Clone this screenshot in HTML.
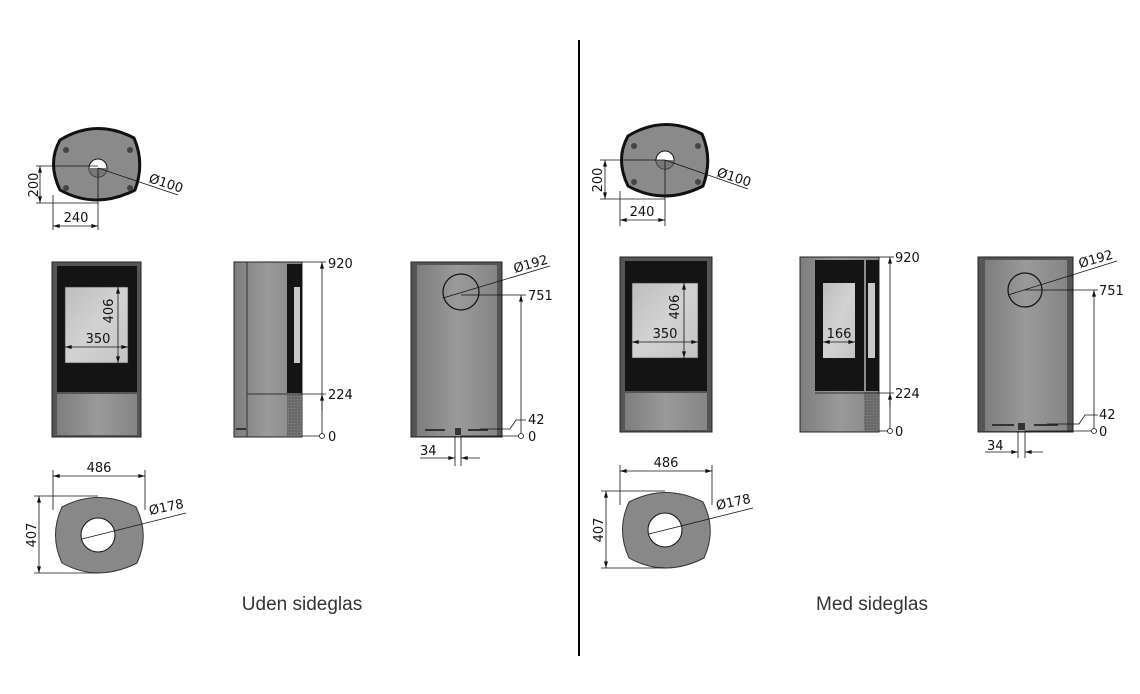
<!DOCTYPE html>
<html><head><meta charset="utf-8"><style>
html,body{margin:0;padding:0;background:#fff;width:1140px;height:694px;overflow:hidden}
svg{display:block}
text{font-family:"DejaVu Sans","Liberation Sans",sans-serif;fill:#111}
</style></head><body>
<svg width="1140" height="694" viewBox="0 0 1140 694" xmlns="http://www.w3.org/2000/svg">
<defs>
<marker id="a" viewBox="0 0 10 6" refX="10" refY="3" markerWidth="9" markerHeight="5" orient="auto-start-reverse"><path d="M0 0L10 3L0 6z" fill="#111"/></marker>
<linearGradient id="g" x1="0" x2="1"><stop offset="0" stop-color="#7d7d7d"/><stop offset=".5" stop-color="#9a9a9a"/><stop offset="1" stop-color="#858585"/></linearGradient>
<linearGradient id="gl" x1="0" x2="1" y1="0" y2="1"><stop offset="0" stop-color="#bdbdbd"/><stop offset=".5" stop-color="#d2d2d2"/><stop offset="1" stop-color="#c4c4c4"/></linearGradient>
<pattern id="h" width="3" height="3" patternUnits="userSpaceOnUse"><rect width="3" height="3" fill="#6a6a6a"/><rect width="1" height="1" fill="#888"/></pattern>
</defs>
<line x1="579" y1="40" x2="579" y2="656" stroke="#000" stroke-width="2"/>

<!-- LEFT SET -->
<g id="L">
<!-- top view -->
<path d="M60 140 Q96 118 134 138 Q145 163 135 190 Q96 210 60 190 Q47 163 60 140Z" fill="#8a8a8a" stroke="#111" stroke-width="3"/>
<circle cx="98" cy="168" r="9" fill="#fff" stroke="#111"/>
<path d="M89 168 A9 9 0 0 0 107 168Z" fill="#777"/>
<circle cx="66" cy="150" r="3" fill="#444"/><circle cx="130" cy="150" r="3" fill="#444"/><circle cx="66" cy="188" r="3" fill="#444"/><circle cx="130" cy="188" r="3" fill="#444"/>
<g stroke="#111" stroke-width="0.8" fill="none">
<line x1="36" y1="166" x2="98" y2="166"/><line x1="36" y1="203" x2="98" y2="203"/>
<line x1="40" y1="166" x2="40" y2="203" marker-start="url(#a)" marker-end="url(#a)"/>
<line x1="53" y1="195" x2="53" y2="230"/><line x1="98" y1="168" x2="98" y2="230"/>
<line x1="53" y1="226" x2="98" y2="226" marker-start="url(#a)" marker-end="url(#a)"/>
<line x1="98" y1="168" x2="178" y2="195"/>
</g>
<text x="38" y="185" font-size="13" transform="rotate(-90 38 185)" text-anchor="middle">200</text>
<text x="76" y="222" font-size="13" text-anchor="middle">240</text>
<text x="148" y="182" font-size="13" transform="rotate(18 148 182)">Ø100</text>

<!-- front view -->
<rect x="52" y="262" width="89" height="175" fill="#555" stroke="#222"/>
<rect x="57" y="266" width="80" height="126" fill="#141414"/>
<rect x="65" y="287" width="63" height="76" fill="url(#gl)" stroke="#333" stroke-width=".6"/>
<rect x="57" y="394" width="80" height="41" fill="url(#g)"/>
<g stroke="#111" stroke-width="0.8">
<line x1="118" y1="287" x2="118" y2="363" marker-start="url(#a)" marker-end="url(#a)"/>
<line x1="65" y1="347" x2="128" y2="347" marker-start="url(#a)" marker-end="url(#a)"/>
</g>
<text x="117" y="315" font-size="13" transform="rotate(-90 113 315)" text-anchor="middle">406</text>
<text x="98" y="343" font-size="13" text-anchor="middle">350</text>

<!-- side view -->
<rect x="234" y="262" width="68" height="175" fill="url(#g)" stroke="#222"/>
<line x1="247" y1="262" x2="247" y2="437" stroke="#333"/>
<rect x="287" y="264" width="15" height="129" fill="#141414"/>
<rect x="294" y="287" width="6" height="76" fill="#c8c8c8"/>
<line x1="247" y1="394" x2="302" y2="394" stroke="#333"/>
<rect x="287" y="395" width="15" height="41" fill="url(#h)"/>
<rect x="236" y="428" width="10" height="2" fill="#333"/>
<g stroke="#111" stroke-width="0.8">
<line x1="302" y1="262" x2="326" y2="262"/><line x1="302" y1="394" x2="326" y2="394"/><line x1="302" y1="436" x2="320" y2="436"/>
<line x1="322" y1="262" x2="322" y2="436" marker-start="url(#a)"/>
<line x1="322" y1="394" x2="322" y2="410" marker-start="url(#a)"/>
</g>
<circle cx="322" cy="436" r="2.5" fill="#fff" stroke="#111" stroke-width=".8"/>
<text x="328" y="268" font-size="13">920</text>
<text x="328" y="399" font-size="13">224</text>
<text x="328" y="441" font-size="13">0</text>

<!-- back view -->
<rect x="411" y="262" width="91" height="175" fill="#555" stroke="#222"/>
<rect x="417" y="265" width="80" height="171" fill="url(#g)"/>
<circle cx="461" cy="292" r="18" fill="none" stroke="#111" stroke-width="1.2"/>
<rect x="425" y="429" width="20" height="2" fill="#333"/><rect x="468" y="429" width="20" height="2" fill="#333"/>
<rect x="455" y="428" width="6" height="7" fill="#333"/>
<g stroke="#111" stroke-width="0.8" fill="none">
<line x1="443" y1="298" x2="550" y2="266"/>
<line x1="461" y1="295" x2="526" y2="295"/>
<line x1="521" y1="295" x2="521" y2="436" marker-start="url(#a)"/>
<path d="M480 429 L510 429 L516 420 L526 420"/>
<line x1="461" y1="436" x2="524" y2="436"/>
<line x1="455" y1="436" x2="455" y2="466"/><line x1="461" y1="436" x2="461" y2="466"/>
<line x1="420" y1="458" x2="455" y2="458" marker-end="url(#a)"/>
<line x1="480" y1="458" x2="461" y2="458" marker-end="url(#a)"/>
</g>
<circle cx="521" cy="436" r="2.5" fill="#fff" stroke="#111" stroke-width=".8"/>
<text x="515" y="273" font-size="13" transform="rotate(-16 515 273)">Ø192</text>
<text x="528" y="300" font-size="13">751</text>
<text x="528" y="424" font-size="13">42</text>
<text x="528" y="441" font-size="13">0</text>
<text x="420" y="455" font-size="13">34</text>
</g>

<!-- bottom view left -->
<path d="M62 507 Q98 488 136 507 Q150 535 137 563 Q98 583 62 563 Q49 535 62 507Z" fill="#888" stroke="#333"/>
<circle cx="98" cy="535" r="17" fill="#fff" stroke="#111"/>
<g stroke="#111" stroke-width="0.8">
<line x1="53" y1="470" x2="53" y2="510"/><line x1="145" y1="470" x2="145" y2="510"/>
<line x1="53" y1="476" x2="145" y2="476" marker-start="url(#a)" marker-end="url(#a)"/>
<line x1="34" y1="496" x2="98" y2="496"/><line x1="34" y1="573" x2="98" y2="573"/>
<line x1="39" y1="496" x2="39" y2="573" marker-start="url(#a)" marker-end="url(#a)"/>
<line x1="82" y1="539" x2="186" y2="513"/>
</g>
<text x="99" y="472" font-size="13" text-anchor="middle">486</text>
<text x="36" y="535" font-size="13" transform="rotate(-90 36 535)" text-anchor="middle">407</text>
<text x="150" y="515" font-size="13" transform="rotate(-12 150 515)">Ø178</text>

<!-- RIGHT SET -->
<g transform="translate(568,-4)">
<path d="M60 140 Q96 118 134 138 Q145 163 135 190 Q96 210 60 190 Q47 163 60 140Z" fill="#8a8a8a" stroke="#111" stroke-width="3"/>
<circle cx="97" cy="164" r="9" fill="#fff" stroke="#111"/>
<path d="M88 164 A9 9 0 0 0 106 164Z" fill="#777"/>
<circle cx="66" cy="150" r="3" fill="#444"/><circle cx="130" cy="150" r="3" fill="#444"/><circle cx="66" cy="186" r="3" fill="#444"/><circle cx="130" cy="186" r="3" fill="#444"/>
<g stroke="#111" stroke-width="0.8" fill="none">
<line x1="32" y1="164" x2="97" y2="164"/><line x1="32" y1="203" x2="97" y2="203"/>
<line x1="37" y1="164" x2="37" y2="203" marker-start="url(#a)" marker-end="url(#a)"/>
<line x1="52" y1="195" x2="52" y2="230"/><line x1="97" y1="164" x2="97" y2="230"/>
<line x1="52" y1="224" x2="97" y2="224" marker-start="url(#a)" marker-end="url(#a)"/>
<line x1="97" y1="164" x2="180" y2="193"/>
</g>
<text x="34" y="184" font-size="13" transform="rotate(-90 34 184)" text-anchor="middle">200</text>
<text x="74" y="220" font-size="13" text-anchor="middle">240</text>
<text x="148" y="180" font-size="13" transform="rotate(18 148 180)">Ø100</text>
</g>

<g transform="translate(568,-5)">
<rect x="52" y="262" width="92" height="175" fill="#555" stroke="#222"/>
<rect x="57" y="266" width="82" height="130" fill="#141414"/>
<rect x="64" y="288" width="66" height="75" fill="url(#gl)" stroke="#333" stroke-width=".6"/>
<rect x="57" y="398" width="82" height="37" fill="url(#g)"/>
<g stroke="#111" stroke-width="0.8">
<line x1="116" y1="288" x2="116" y2="363" marker-start="url(#a)" marker-end="url(#a)"/>
<line x1="64" y1="347" x2="130" y2="347" marker-start="url(#a)" marker-end="url(#a)"/>
</g>
<text x="115" y="316" font-size="13" transform="rotate(-90 111 316)" text-anchor="middle">406</text>
<text x="97" y="343" font-size="13" text-anchor="middle">350</text>
</g>

<g transform="translate(0,-5)">
<rect x="800" y="262" width="79" height="175" fill="url(#g)" stroke="#222"/>
<rect x="815" y="265" width="49" height="131" fill="#141414"/>
<rect x="823" y="288" width="32" height="75" fill="url(#gl)"/>
<rect x="866" y="265" width="13" height="131" fill="#141414"/>
<rect x="868" y="288" width="7" height="75" fill="#c8c8c8"/>
<line x1="815" y1="398" x2="879" y2="398" stroke="#333"/>
<rect x="864" y="399" width="15" height="37" fill="url(#h)"/>
<g stroke="#111" stroke-width="0.8">
<line x1="823" y1="347" x2="855" y2="347" marker-start="url(#a)" marker-end="url(#a)"/>
<line x1="879" y1="262" x2="894" y2="262"/><line x1="864" y1="398" x2="894" y2="398"/><line x1="879" y1="436" x2="890" y2="436"/>
<line x1="890" y1="262" x2="890" y2="436" marker-start="url(#a)"/>
<line x1="890" y1="398" x2="890" y2="412" marker-start="url(#a)"/>
</g>
<circle cx="890" cy="436" r="2.5" fill="#fff" stroke="#111" stroke-width=".8"/>
<text x="839" y="343" font-size="13" text-anchor="middle">166</text>
<text x="895" y="267" font-size="13">920</text>
<text x="895" y="403" font-size="13">224</text>
<text x="895" y="441" font-size="13">0</text>
</g>

<g transform="translate(567,-5)">
<rect x="411" y="262" width="95" height="175" fill="#555" stroke="#222"/>
<rect x="418" y="265" width="82" height="171" fill="url(#g)"/>
<circle cx="458" cy="295" r="17" fill="none" stroke="#111" stroke-width="1.2"/>
<rect x="425" y="429" width="22" height="2" fill="#333"/><rect x="467" y="429" width="24" height="2" fill="#333"/>
<rect x="451" y="428" width="7" height="7" fill="#333"/>
<g stroke="#111" stroke-width="0.8" fill="none">
<line x1="441" y1="300" x2="550" y2="266"/>
<line x1="458" y1="295" x2="531" y2="295"/>
<line x1="527" y1="295" x2="527" y2="436" marker-start="url(#a)"/>
<path d="M480 429 L512 429 L518 420 L531 420"/>
<line x1="458" y1="436" x2="530" y2="436"/>
<line x1="451" y1="436" x2="451" y2="463"/><line x1="458" y1="436" x2="458" y2="463"/>
<line x1="418" y1="457" x2="451" y2="457" marker-end="url(#a)"/>
<line x1="476" y1="457" x2="458" y2="457" marker-end="url(#a)"/>
</g>
<circle cx="527" cy="436" r="2.5" fill="#fff" stroke="#111" stroke-width=".8"/>
<text x="513" y="273" font-size="13" transform="rotate(-16 513 273)">Ø192</text>
<text x="532" y="300" font-size="13">751</text>
<text x="532" y="424" font-size="13">42</text>
<text x="532" y="441" font-size="13">0</text>
<text x="420" y="455" font-size="13">34</text>
</g>

<g transform="translate(567,-5)">
<path d="M62 507 Q98 488 136 507 Q150 535 137 563 Q98 583 62 563 Q49 535 62 507Z" fill="#888" stroke="#333"/>
<circle cx="98" cy="535" r="17" fill="#fff" stroke="#111"/>
<g stroke="#111" stroke-width="0.8">
<line x1="53" y1="470" x2="53" y2="510"/><line x1="145" y1="470" x2="145" y2="510"/>
<line x1="53" y1="476" x2="145" y2="476" marker-start="url(#a)" marker-end="url(#a)"/>
<line x1="34" y1="496" x2="98" y2="496"/><line x1="34" y1="573" x2="98" y2="573"/>
<line x1="39" y1="496" x2="39" y2="573" marker-start="url(#a)" marker-end="url(#a)"/>
<line x1="82" y1="539" x2="186" y2="513"/>
</g>
<text x="99" y="472" font-size="13" text-anchor="middle">486</text>
<text x="36" y="535" font-size="13" transform="rotate(-90 36 535)" text-anchor="middle">407</text>
<text x="150" y="515" font-size="13" transform="rotate(-12 150 515)">Ø178</text>
</g>

<text x="302" y="610" font-size="19" text-anchor="middle" style="font-family:'Liberation Sans',sans-serif;fill:#333">Uden sideglas</text>
<text x="872" y="610" font-size="19" text-anchor="middle" style="font-family:'Liberation Sans',sans-serif;fill:#333">Med sideglas</text>
</svg>
</body></html>
